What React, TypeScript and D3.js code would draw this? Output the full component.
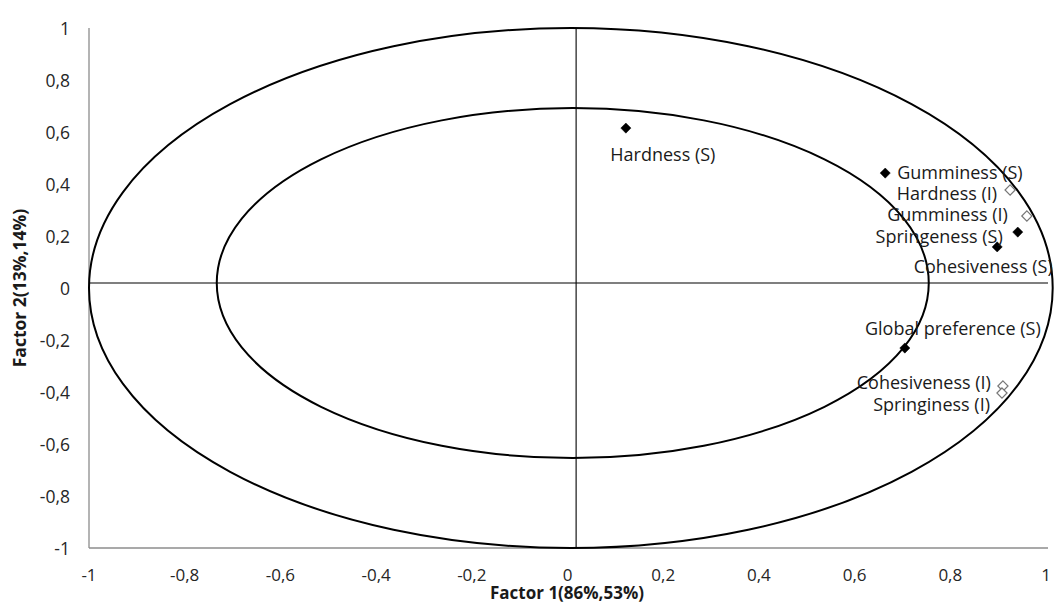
import React from 'react';
import * as d3 from 'd3';

// loadings on the first two factors
const variables = [
  'Hardness (S)',
  'Gumminess (S)',
  'Hardness (I)',
  'Gumminess (I)',
  'Springeness (S)',
  'Cohesiveness (S)',
  'Global preference (S)',
  'Cohesiveness (I)',
  'Springiness (I)',
];
const factor1 = [0.122, 0.664, 0.925, 0.96, 0.941, 0.898, 0.705, 0.91, 0.908];
const factor2 = [0.615, 0.442, 0.377, 0.277, 0.215, 0.158, -0.231, -0.377, -0.404];
const group = ['S', 'S', 'I', 'I', 'S', 'S', 'S', 'I', 'I'];

const tickValues = [-1, -0.8, -0.6, -0.4, -0.2, 0, 0.2, 0.4, 0.6, 0.8, 1];

// correlation circles (centre x, centre y, radius x, radius y)
const circles = [
  [0.007, 0, 1.007, 1.0],
  [0.011, 0.019, 0.744, 0.673],
];
// reference lines drawn through the plot
const crossX = 0.018;
const crossY = 0.019;

// label placement relative to the marker, in px
const labelPos: Record<string, { dx: number; dy: number; anchor: string }> = {
  'Hardness (S)': { dx: 37, dy: 27, anchor: 'middle' },
  'Gumminess (S)': { dx: 12, dy: 0, anchor: 'start' },
  'Hardness (I)': { dx: -13, dy: 4, anchor: 'end' },
  'Gumminess (I)': { dx: -19, dy: -1, anchor: 'end' },
  'Springeness (S)': { dx: -15, dy: 5, anchor: 'end' },
  'Cohesiveness (S)': { dx: -14, dy: 20, anchor: 'middle' },
  'Global preference (S)': { dx: 48, dy: -19, anchor: 'middle' },
  'Cohesiveness (I)': { dx: -12, dy: -3, anchor: 'end' },
  'Springiness (I)': { dx: -12, dy: 12, anchor: 'end' },
};

const W = 1054;
const H = 604;
const FONT = '"Open Sans", "Noto Sans", sans-serif';

export default function App() {
  const x = d3.scaleLinear().domain([-1, 1]).range([89, 1046]);
  const y = d3.scaleLinear().domain([-1, 1]).range([548, 28]);
  const diamond = d3.symbol().type(d3.symbolDiamond2).size(66)();
  const fmt = (v: number) => (Math.abs(v) < 1e-9 ? '0' : d3.format('.1~f')(v).replace('.', ',').replace('−', '-'));

  return (
    <svg
      width={W}
      height={H}
      style={{ position: 'absolute', left: 0, top: 0, background: '#fff' }}
      fontFamily={FONT}
    >
      {/* plot frame: left and bottom axes */}
      <line x1={x(-1)} x2={x(-1)} y1={y(1)} y2={y(-1)} stroke="#8c8c8c" strokeWidth={1.3} />
      <line x1={x(-1)} x2={x(1) + 2} y1={y(-1)} y2={y(-1)} stroke="#8c8c8c" strokeWidth={1.3} />

      {/* reference cross */}
      <line x1={x(-1)} x2={x(1) + 2} y1={y(crossY)} y2={y(crossY)} stroke="#000" strokeWidth={1.1} />
      <line x1={x(crossX)} x2={x(crossX)} y1={y(1)} y2={y(-1)} stroke="#000" strokeWidth={1.1} />

      {circles.map((c, i) => (
        <ellipse
          key={i}
          cx={x(c[0])}
          cy={y(c[1])}
          rx={x(c[2]) - x(0)}
          ry={y(0) - y(c[3])}
          fill="none"
          stroke="#000"
          strokeWidth={2}
        />
      ))}

      {/* tick labels */}
      {tickValues.map((t) => (
        <text key={'x' + t} x={x(t)} y={581} textAnchor="middle" fontSize={17} fill="#262626">
          {fmt(t)}
        </text>
      ))}
      {tickValues.map((t) => (
        <text key={'y' + t} x={70} y={y(t) + 6.5} textAnchor="end" fontSize={17.5} fill="#262626">
          {fmt(t)}
        </text>
      ))}

      {/* axis titles */}
      <text x={567} y={599} textAnchor="middle" fontSize={17} fontWeight="bold" fill="#1a1a1a">
        Factor 1(86%,53%)
      </text>
      <text
        transform={`translate(26, ${y(0)}) rotate(-90)`}
        textAnchor="middle"
        fontSize={17.5}
        fontWeight="bold"
        fill="#1a1a1a"
      >
        Factor 2(13%,14%)
      </text>

      {/* points */}
      {variables.map((v, i) => {
        const px = x(factor1[i]);
        const py = y(factor2[i]);
        const filled = group[i] === 'S';
        return (
          <path
            key={v}
            d={diamond as string}
            transform={`translate(${px},${py})`}
            fill={filled ? '#000' : '#fff'}
            stroke={filled ? '#000' : '#777'}
            strokeWidth={filled ? 0.5 : 1.2}
          />
        );
      })}

      {/* labels */}
      {variables.map((v, i) => {
        const p = labelPos[v];
        return (
          <text
            key={'l' + v}
            x={x(factor1[i]) + p.dx}
            y={y(factor2[i]) + p.dy}
            dy="0.35em"
            textAnchor={p.anchor}
            fontSize={18}
            fill="#1a1a1a"
          >
            {v}
          </text>
        );
      })}
    </svg>
  );
}
